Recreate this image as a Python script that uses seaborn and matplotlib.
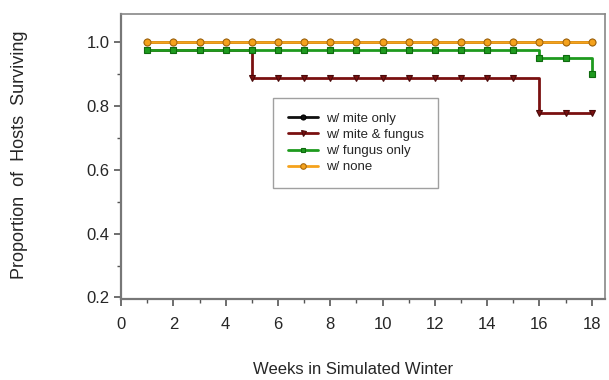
import matplotlib
matplotlib.use("Agg")
import matplotlib.pyplot as plt
import seaborn as sns
import pandas as pd
import numpy as np
from matplotlib.ticker import MultipleLocator

sns.set_theme(style="white")
plt.rcParams['font.family'] = ['Liberation Sans', 'DejaVu Sans']

weeks = list(range(1, 19))
mite_only = [1.0] * 18
mite_fungus = [0.975] * 4 + [0.889] * 11 + [0.778] * 3
fungus_only = [0.975] * 15 + [0.95, 0.95, 0.90]
none = [1.0] * 18

labels = ["w/ mite only", "w/ mite & fungus", "w/ fungus only", "w/ none"]
series = [mite_only, mite_fungus, fungus_only, none]
colors = ["#111111", "#7a1010", "#1e9a1e", "#f5a21c"]
edgecolors = ["#000000", "#4a0a0a", "#0f6a0f", "#a86a10"]
markers = ["o", "v", "s", "o"]
msizes = [4.5, 4.5, 4.2, 5]
z = [3, 2, 4, 5]

fig, ax = plt.subplots(figsize=(6.09, 3.80), dpi=100)
fig.subplots_adjust(left=0.199, right=0.993, top=0.963, bottom=0.213)

for lab, vals, c, ec, m, ms, zz in zip(labels, series, colors, edgecolors, markers, msizes, z):
    df = pd.DataFrame({"week": weeks, "prop": vals})
    sns.lineplot(data=df, x="week", y="prop", ax=ax, color=c, marker=m,
                 markersize=ms, markeredgecolor=ec, markeredgewidth=0.8,
                 linewidth=2, drawstyle="steps-post", label=lab, zorder=zz)

ax.set_xlim(0, 18.5)
ax.set_ylim(0.195, 1.088)
ax.set_xticks(np.arange(0, 19, 2))
ax.set_yticks([0.2, 0.4, 0.6, 0.8, 1.0])
ax.set_yticklabels(["0.2", "0.4", "0.6", "0.8", "1.0"])
ax.xaxis.set_minor_locator(MultipleLocator(1))
ax.yaxis.set_minor_locator(MultipleLocator(0.1))
ax.tick_params(axis="both", which="major", direction="out", length=5, width=1.2,
               color="#555555", labelsize=12, bottom=True, left=True)
ax.tick_params(axis="x", which="major", pad=8)
ax.tick_params(axis="y", which="major", pad=3.5)
ax.tick_params(axis="both", which="minor", direction="out", length=3, width=1,
               color="#555555", bottom=True, left=True)
ax.tick_params(top=False, right=False, which="both")

for s in ["left", "bottom"]:
    ax.spines[s].set_color("#777777")
    ax.spines[s].set_linewidth(1.6)
for s in ["top", "right"]:
    ax.spines[s].set_color("#888888")
    ax.spines[s].set_linewidth(1.2)

ax.set_xlabel("Weeks in Simulated Winter", fontsize=12)
ax.set_ylabel("Proportion  of  Hosts  Surviving", fontsize=13)
ax.xaxis.set_label_coords(0.479, -0.221)
ax.yaxis.set_label_coords(-0.192, 0.505)

leg = ax.legend(loc="upper left", bbox_to_anchor=(0.314, 0.705), borderaxespad=0,
                fontsize=9.5, frameon=True, fancybox=False, edgecolor="#888888",
                handlelength=2.3, handletextpad=0.6, borderpad=1.1,
                labelspacing=0.3, markerscale=0.8)
leg.get_frame().set_linewidth(1.0)

fig.savefig("out.png", dpi=100)
